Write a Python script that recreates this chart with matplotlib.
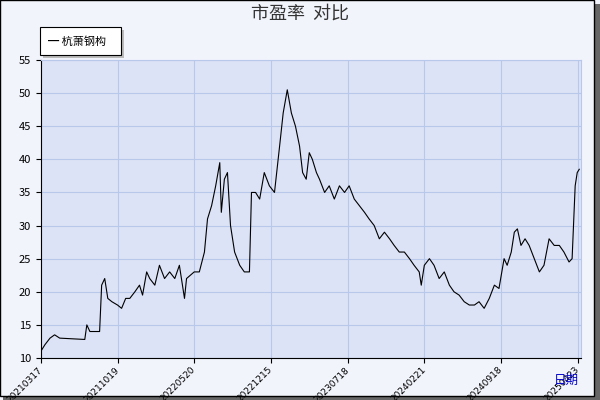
import matplotlib.pyplot as plt
from matplotlib.patches import Rectangle

plt.rcParams['font.family'] = ['Noto Sans CJK SC', 'DejaVu Sans']

# trading-day index and PE value
days = [0, 8, 18, 27, 37, 86, 90, 96, 105, 115, 119, 125, 131, 139, 150, 158, 166, 174, 184, 193,
        199, 207, 213, 223, 232, 242, 252, 262, 271, 281, 285, 300, 310, 320, 326, 334, 342, 350, 353, 359,
        365, 371, 379, 389, 398, 408, 412, 420, 428, 437, 447, 457, 467, 474, 482, 490, 498, 506, 512, 519,
        525, 531, 539, 545, 555, 564, 574, 584, 594, 603, 613, 623, 633, 642, 652, 662, 672, 682, 691, 701,
        711, 721, 730, 740, 744, 750, 760, 769, 779, 789, 799, 808, 818, 828, 838, 848, 857, 867, 877, 887,
        896, 906, 912, 920, 926, 932, 939, 947, 955, 965, 975, 984, 994, 1004, 1014, 1023, 1033, 1039, 1045, 1049,
        1053]
pe = [11, 12, 13, 13.5, 13, 12.8, 15, 14, 14, 14, 21, 22, 19, 18.5, 18, 17.5, 19, 19, 20, 21,
      19.5, 23, 22, 21, 24, 22, 23, 22, 24, 19, 22, 23, 23, 26, 31, 33, 36, 39.5, 32, 37,
      38, 30, 26, 24, 23, 23, 35, 35, 34, 38, 36, 35, 42, 47, 50.5, 47, 45, 42, 38, 37,
      41, 40, 38, 37, 35, 36, 34, 36, 35, 36, 34, 33, 32, 31, 30, 28, 29, 28, 27, 26,
      26, 25, 24, 23, 21, 24, 25, 24, 22, 23, 21, 20, 19.5, 18.5, 18, 18, 18.5, 17.5, 19, 21,
      20.5, 25, 24, 26, 29, 29.5, 27, 28, 27, 25, 23, 24, 28, 27, 27, 26, 24.5, 25, 36, 38,
      38.5]
tick_days = [0, 150, 300, 450, 600, 750, 900, 1050]
tick_labels = ['20210317', '20211019', '20220520', '20221215', '20230718', '20240221', '20240918', '20250423']

fig = plt.figure(figsize=(6, 4), dpi=100, facecolor='#F2F4FC')
fig.patches.append(Rectangle((0.005, 0.0), 0.995, 0.99, transform=fig.transFigure,
                             facecolor='#666666', edgecolor='none', zorder=-2))
fig.patches.append(Rectangle((0.0, 0.01), 0.99, 0.99, transform=fig.transFigure,
                             facecolor='#F2F4FC', edgecolor='black', lw=1, zorder=-1))

ax = fig.add_axes([0.068, 0.105, 0.9, 0.745])
ax.set_facecolor('#DCE3F6')
ax.plot(days, pe, color='black', lw=0.8)
ax.set_xlim(0, 1056)
ax.set_ylim(10, 55)
ax.set_yticks(range(10, 56, 5))
ax.set_xticks(tick_days)
ax.set_xticklabels(tick_labels, rotation=45, ha='right', va='center', rotation_mode='anchor',
                   fontsize=6.5, family='DejaVu Sans')
ax.tick_params(axis='y', labelsize=8)
ax.tick_params(axis='x', pad=4)
ax.grid(color='#B8C8EA', lw=0.8)
for s in ['top', 'right']:
    ax.spines[s].set_color('#B8C8EA')

fig.text(0.5, 0.965, '市盈率  对比', ha='center', va='center', fontsize=13, color='#333333')
fig.text(0.965, 0.05, '日期', ha='right', va='center', fontsize=9, color='#0000CC')

# legend box with shadow
fig.patches.append(Rectangle((0.072, 0.855), 0.135, 0.07, transform=fig.transFigure,
                             facecolor='#BBBBBB', edgecolor='none'))
fig.patches.append(Rectangle((0.066, 0.862), 0.135, 0.07, transform=fig.transFigure,
                             facecolor='white', edgecolor='black', lw=0.8))
fig.text(0.08, 0.897, '━ 杭萧钢构', va='center', fontsize=8)

fig.savefig('out.png')
